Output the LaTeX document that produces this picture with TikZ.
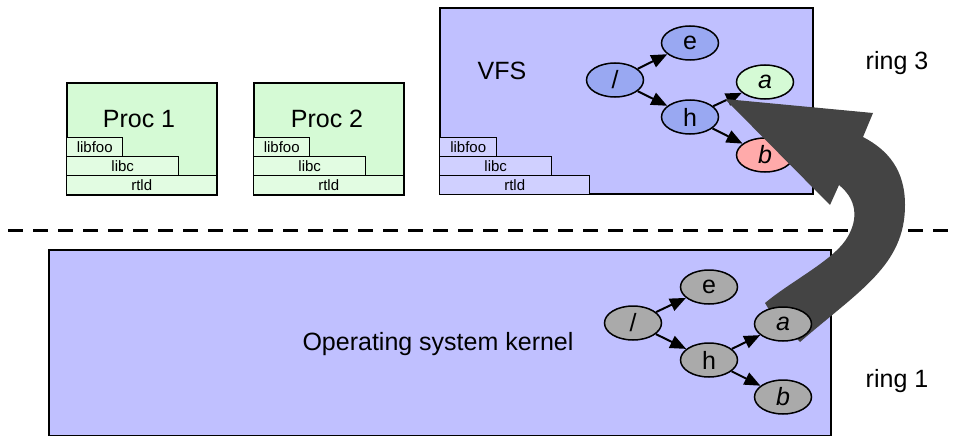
\documentclass[tikz,border=0pt]{standalone}
\usepackage{fontspec}
\setmainfont{Liberation Sans}
\usetikzlibrary{shapes.geometric,arrows.meta}
\definecolor{lav}{RGB}{192,192,255}
\definecolor{lavlib}{RGB}{208,208,255}
\definecolor{vblue}{RGB}{153,168,242}
\definecolor{pgreen}{RGB}{213,250,213}
\definecolor{plib}{RGB}{226,252,226}
\definecolor{pinkred}{RGB}{255,170,170}
\definecolor{ngray}{RGB}{170,170,170}
\definecolor{arrowgray}{RGB}{68,68,68}
\begin{document}
\begin{tikzpicture}[x=1pt,y=-1pt,
  bigbox/.style={draw, line width=2pt, anchor=north west, inner sep=0pt},
  libbox/.style={draw, line width=1.4pt, anchor=north west, inner sep=0pt,
    minimum height=19pt, font=\fontsize{15}{16}\selectfont},
  lbl/.style={anchor=base, inner sep=0pt, font=\fontsize{25}{28}\selectfont},
  fsnode/.style={ellipse, draw, line width=1.5pt, minimum width=57pt,
    minimum height=34pt, inner sep=0pt, font=\fontsize{25}{28}\selectfont},
  edge/.style={line width=2pt, -{Triangle[length=16pt,width=13pt]}}]
\useasboundingbox (0,0) rectangle (953,436);

% kernel box
\node[bigbox, fill=lav, minimum width=782pt, minimum height=186pt] (kbox) at (48,249) {};
\node[lbl] (ktext) at (438,350) {Operating system kernel};

% Proc 1
\node[bigbox, fill=pgreen, minimum width=150pt, minimum height=112pt] (p1) at (66,82) {};
\node[lbl] (p1t) at (139,127) {Proc 1};
\node[libbox, fill=plib, minimum width=56pt] (p1foo) at (66,137) {libfoo};
\node[libbox, fill=plib, minimum width=112pt] (p1c) at (66,156) {libc};
\node[libbox, fill=plib, minimum width=150pt, minimum height=19pt] (p1r) at (66,175) {rtld};

% Proc 2
\node[bigbox, fill=pgreen, minimum width=150pt, minimum height=112pt] (p2) at (253,82) {};
\node[lbl] (p2t) at (327,127) {Proc 2};
\node[libbox, fill=plib, minimum width=56pt] (p2foo) at (253,137) {libfoo};
\node[libbox, fill=plib, minimum width=112pt] (p2c) at (253,156) {libc};
\node[libbox, fill=plib, minimum width=150pt, minimum height=19pt] (p2r) at (253,175) {rtld};

% VFS
\node[bigbox, fill=lav, minimum width=373pt, minimum height=186pt] (vbox) at (439,7) {};
\node[lbl] (vt) at (502,80) {VFS};
\node[libbox, fill=lavlib, minimum width=57pt] (vfoo) at (439,137) {libfoo};
\node[libbox, fill=lavlib, minimum width=112pt] (vc) at (439,156) {libc};
\node[libbox, fill=lavlib, minimum width=150pt, minimum height=19pt] (vr) at (439,175) {rtld};

\node[fsnode, fill=vblue] (vroot) at (615,80) {/};
\node[fsnode, fill=vblue] (ve) at (690,43) {e};
\node[fsnode, fill=vblue] (vh) at (690,117) {h};
\node[fsnode, fill=pgreen] (va) at (765,82) {\itshape a};
\node[fsnode, fill=pinkred] (vb) at (765,155) {\itshape b};
\draw[edge] (vroot) -- (ve);
\draw[edge] (vroot) -- (vh);
\draw[edge] (vh) -- (va);
\draw[edge] (vh) -- (vb);

% ring labels
\node[lbl] (r3) at (897,70) {ring 3};
\node[lbl] (r1) at (897,387) {ring 1};

% dashed separator
\coordinate (dl) at (8,230);
\coordinate (dr) at (953,230);
\draw[line width=3pt, dash pattern=on 15pt off 10pt] (dl) -- (dr);

% big arrow
\fill[arrowgray] (768,308) -- (800,342)
  .. controls (860,290) and (905,265) .. (905,205)
  .. controls (905,170) and (888,150) .. (863,137)
  -- (873,113) -- (725,99) -- (830,205) -- (839,185)
  .. controls (860,202) and (857,224) .. (845,241)
  .. controls (830,262) and (790,282) .. (765,303) -- cycle;

% kernel tree
\node[fsnode, fill=ngray] (kroot) at (633,323) {/};
\node[fsnode, fill=ngray] (ke) at (709,287) {e};
\node[fsnode, fill=ngray] (kh) at (709,360) {h};
\node[fsnode, fill=ngray] (ka) at (783,324) {\itshape a};
\node[fsnode, fill=ngray] (kb) at (783,397) {\itshape b};
\draw[edge] (kroot) -- (ke);
\draw[edge] (kroot) -- (kh);
\draw[edge] (kh) -- (ka);
\draw[edge] (kh) -- (kb);
\end{tikzpicture}
\end{document}
